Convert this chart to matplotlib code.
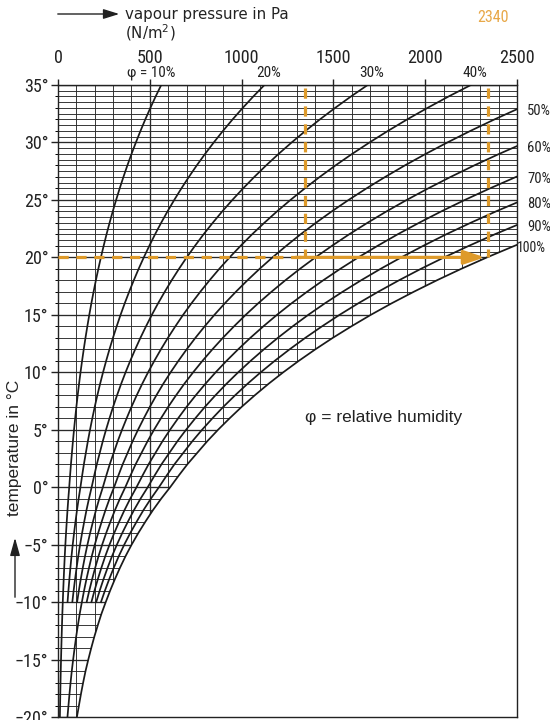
import numpy as np
import matplotlib
matplotlib.use("Agg")
import matplotlib.pyplot as plt
from matplotlib.patches import Polygon, FancyArrowPatch
from matplotlib import font_manager as fm

# ---------------- data ----------------
temps = list(range(-20, 36))  # °C
# saturation vapour pressure (Pa) at each temperature (over ice below 0 °C)
psat = [103, 114, 125, 137, 150, 165, 181, 198, 217, 237,
        260, 284, 310, 338, 368, 401, 437, 476, 517, 562,
        611, 657, 705, 759, 813, 872, 935, 1001, 1072, 1147,
        1227, 1312, 1402, 1497, 1598, 1704, 1817, 1937, 2063, 2196,
        2337, 2486, 2642, 2808, 2982, 3166, 3360, 3564, 3778, 4004,
        4242, 4491, 4753, 5029, 5318, 5622]
rh_levels = [10, 20, 30, 40, 50, 60, 70, 80, 90, 100]       # %
curve_lowest_temp = [-20, -10, -10, -10, -20, -10, -10, -10, -10, -20]
top_labels = ["φ = 10%", "20%", "30%", "40%"]
right_labels = ["50%", "60%", "70%", "80%", "90%", "100%"]
x_ticks = [0, 500, 1000, 1500, 2000, 2500]
y_ticks = [-20, -15, -10, -5, 0, 5, 10, 15, 20, 25, 30, 35]
example_temp = 20
example_pressures = [1345, 2340]

# ---------------- fonts ----------------
names = {f.name for f in fm.fontManager.ttflist}
narrow_prop = None
for cand in ["Liberation Sans Narrow", "Roboto Condensed", "Open Sans Condensed",
             "DejaVu Sans Condensed", "Noto Sans Condensed"]:
    if cand in names:
        narrow_prop = dict(family=[cand, "DejaVu Sans"])
        scale = 1.0
        break
if narrow_prop is None:
    cond = [f for f in fm.fontManager.ttflist
            if f.name == "DejaVu Sans" and "Condensed" in f.fname and f.weight in (400, "normal")
            and f.style == "normal"]
    if cond:
        narrow_prop = dict(fname=cond[0].fname)
        scale = 0.97
    elif "Roboto" in names:
        narrow_prop = dict(family=["Roboto", "DejaVu Sans"])
        scale = 0.86
    else:
        narrow_prop = dict(family=["DejaVu Sans"])
        scale = 0.8


def nfont(size):
    return fm.FontProperties(size=size * scale, **narrow_prop)


sans = ["Liberation Sans", "DejaVu Sans"]

# ---------------- figure ----------------
W, H = 550, 720
fig = plt.figure(figsize=(W / 100, H / 100), dpi=100)
ax = fig.add_axes([58 / W, 3 / H, (517 - 58) / W, (717 - 85) / H])
ax.set_xlim(0, 2500)
ax.set_ylim(-20, 35)

T = np.array(temps, dtype=float)
P = np.array(psat, dtype=float)

# clip region: left of the saturation curve
t_cross = float(np.interp(2500, P, T))
mask = P < 2500
verts = [(0, -20)] + list(zip(P[mask], T[mask])) + [(2500, t_cross), (2500, 35), (0, 35)]
clip = Polygon(verts, closed=True, transform=ax.transData, facecolor="none", edgecolor="none")

grid_col = "#2a2a2a"
h_lines = list(np.arange(-20, 20, 1.0)) + list(np.arange(20, 35.01, 0.5))
for y in h_lines:
    major = abs(y / 5 - round(y / 5)) < 1e-9
    ln, = ax.plot([0, 2500], [y, y], color=grid_col, lw=0.95 if major else 0.65, zorder=1)
    ln.set_clip_path(clip)
for x in range(100, 2500, 100):
    major = x % 500 == 0
    ln, = ax.plot([x, x], [-20, 35], color=grid_col, lw=0.95 if major else 0.65, zorder=1)
    ln.set_clip_path(clip)

# humidity curves
for rh, tmin in zip(rh_levels, curve_lowest_temp):
    sel = T >= tmin
    ax.plot(P[sel] * rh / 100, T[sel], color="#1a1a1a", lw=1.25, zorder=3)

# spines & ticks
for s in ax.spines.values():
    s.set_color("#222222")
    s.set_linewidth(1.0)
ax.xaxis.tick_top()
ax.set_xticks(x_ticks)
ax.set_xticklabels([str(v) for v in x_ticks])
ax.tick_params(axis="x", which="major", direction="out", length=4, width=1,
               pad=9, colors="#222222")
ax.set_yticks(y_ticks)
ax.set_yticklabels([(f"{v}°" if v >= 0 else f"\u2212{-v}°") for v in y_ticks])
ax.set_yticks(temps, minor=True)
ax.tick_params(axis="y", which="major", direction="out", length=5, width=1,
               pad=2, colors="#222222")
ax.tick_params(axis="y", which="minor", direction="out", length=2, width=0.7)
for lab in ax.get_xticklabels() + ax.get_yticklabels():
    lab.set_fontproperties(nfont(13))

# top curve labels
for rh, lab in zip(rh_levels[:4], top_labels):
    x = rh / 100 * P[-1]
    dx = -10 if rh == 10 else 4
    ax.annotate(lab, xy=(x, 35), xytext=(dx, 5), textcoords="offset pixels",
                ha="center", va="bottom", fontproperties=nfont(11), color="#222222")
# right curve labels
for rh, lab in zip(rh_levels[4:], right_labels):
    y = float(np.interp(2500 / (rh / 100), P, T))
    dx = 0 if rh == 100 else 10
    dy = -3 if rh == 100 else -2
    ax.annotate(lab, xy=(2500, y), xytext=(dx, dy), textcoords="offset pixels",
                ha="left", va="center", fontproperties=nfont(10.5 if rh < 100 else 10),
                color="#222222", annotation_clip=False)

# orange example
orange = "#DE9A2A"
for xp in example_pressures:
    ax.plot([xp, xp], [34.75, example_temp], color=orange, lw=2.3,
            dashes=(3.2, 2.4), zorder=4, solid_capstyle="butt")
ax.plot([0, example_pressures[0]], [example_temp, example_temp], color=orange,
        lw=2.3, dashes=(3.2, 2.4), zorder=4)
ax.annotate("", xy=(example_pressures[1] - 15, example_temp),
            xytext=(example_pressures[0] - 50, example_temp),
            arrowprops=dict(arrowstyle="-|>,head_length=0.9,head_width=0.3",
                            lw=2.3, color=orange, shrinkA=0, shrinkB=0,
                            mutation_scale=14), zorder=4)
ax.annotate(str(example_pressures[1]), xy=(example_pressures[1], 35),
            xytext=(5, 67), textcoords="offset pixels", ha="center", va="center",
            fontproperties=nfont(11.5), color="#E8A848", annotation_clip=False)

# phi legend text
ax.text(1345, 6.1, "φ = relative humidity", fontsize=12.5, family=sans,
        color="#222222", ha="left", va="center")

# top-left axis title with arrow
fig.text(125 / W, 1 - 14 / H, "vapour pressure in Pa", fontsize=10.8,
         ha="left", va="center", color="#222222")
fig.text(125 / W, 1 - 33 / H, "(N/m$^2$)", fontsize=10.8,
         ha="left", va="center", color="#222222")
fig.patches.append(FancyArrowPatch(
    (55 / W, 1 - 14 / H), (122 / W, 1 - 14 / H), transform=fig.transFigure,
    arrowstyle="-|>,head_length=0.8,head_width=0.25", mutation_scale=12,
    lw=1.0, color="#222222"))

# left axis title with arrow
fig.text(15 / W, 1 - 448 / H, "temperature in °C", fontsize=12.5, rotation=90,
         ha="center", va="center", family=sans, color="#222222")
fig.patches.append(FancyArrowPatch(
    (15 / W, 1 - 600 / H), (15 / W, 1 - 535 / H), transform=fig.transFigure,
    arrowstyle="-|>,head_length=0.9,head_width=0.25", mutation_scale=12,
    lw=1.0, color="#222222"))

fig.savefig("out.png", dpi=100)
